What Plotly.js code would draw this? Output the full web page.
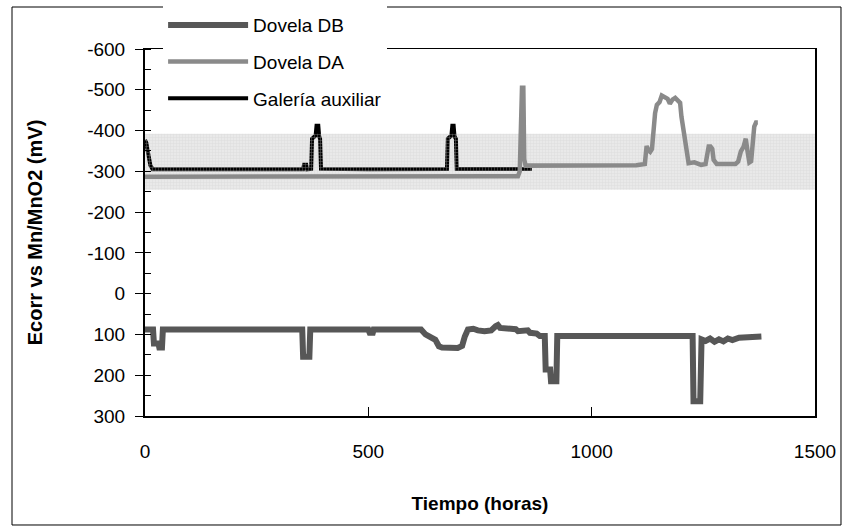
<!DOCTYPE html>
<html>
<head>
<meta charset="utf-8">
<script src="https://cdn.plot.ly/plotly-3.0.1.min.js"></script>
<style>html,body{margin:0;padding:0;background:#fff;}#chart{width:855px;height:531px;}</style>
</head>
<body>
<div id="chart"></div>
<script>
// ---- data ----
const seriesNames = ["Dovela DB", "Dovela DA", "Galería auxiliar"];

const dbT = [0, 18, 20, 30, 32, 38, 40, 352, 354, 368, 370, 500, 503, 510, 512, 618, 628, 638, 650, 658, 665, 700, 710, 716, 723, 735, 745, 760, 775, 785, 790, 795, 810, 830, 835, 850, 857, 862, 877, 884, 895, 897, 907, 909, 921, 923, 1226, 1228, 1243, 1246, 1255, 1265, 1275, 1285, 1295, 1305, 1315, 1330, 1345, 1360, 1380];
const dbV = [88, 88, 122, 122, 132, 132, 88, 88, 155, 155, 88, 88, 96, 96, 88, 88, 100, 105, 113, 129, 132, 133, 128, 105, 88, 86, 90, 92, 90, 80, 77, 84, 86, 87, 92, 92, 90, 96, 98, 104, 104, 186, 186, 215, 215, 104, 104, 264, 264, 112, 116, 110, 118, 112, 117, 110, 114, 108, 108, 105, 105];

const daT = [0, 835, 839, 842, 844, 847, 849, 852, 900, 1000, 1100, 1119, 1123, 1127, 1131, 1135, 1138, 1142, 1146, 1152, 1157, 1164, 1170, 1175, 1181, 1187, 1193, 1198, 1201, 1205, 1209, 1213, 1217, 1230, 1245, 1255, 1258, 1262, 1266, 1270, 1273, 1280, 1300, 1322, 1328, 1334, 1340, 1345, 1349, 1353, 1357, 1361, 1364, 1368, 1372];
const daV = [-287, -288, -300, -420, -505, -505, -330, -314, -314, -314, -315, -318, -362, -352, -348, -355, -395, -443, -463, -470, -486, -482, -478, -466, -476, -480, -474, -468, -434, -402, -373, -345, -320, -322, -316, -318, -333, -361, -361, -355, -328, -318, -318, -318, -324, -349, -360, -380, -349, -322, -325, -361, -410, -420, -420];

const galT = [0, 3, 6, 9, 12, 17, 200, 354, 356, 361, 363, 372, 374, 382, 384, 388, 390, 392, 394, 500, 676, 678, 686, 688, 691, 693, 696, 698, 866];
const galV = [-377, -370, -350, -330, -315, -305, -306, -305, -316, -316, -305, -306, -380, -388, -412, -412, -385, -380, -306, -305, -306, -380, -388, -412, -412, -385, -380, -306, -306];

const bandTop = -392;
const bandBottom = -255;

const yTickVals = [-600, -500, -400, -300, -200, -100, 0, 100, 200, 300];
const yTickText = ["-600", "-500", "-400", "-300", "-200", "-100", "0", "100", "200", "300"];
const xTickVals = [0, 500, 1000, 1500];
const xTickText = ["0", "500", "1000", "1500"];

// ---- traces ----
const FONT = "Liberation Sans, Arial, sans-serif";

const galTrace = {
  x: galT, y: galV, type: "scatter", mode: "lines", name: seriesNames[2],
  line: {color: "#000000", width: 4}, legendgroup: "g3", legendrank: 3, hoverinfo: "skip"
};
const bandTrace = {
  x: [xTickVals[0], xTickVals[3], xTickVals[3], xTickVals[0], xTickVals[0]],
  y: [bandBottom, bandBottom, bandTop, bandTop, bandBottom],
  type: "scatter", mode: "lines", fill: "toself", fillcolor: "rgba(0,0,0,0)",
  fillpattern: {shape: "+", size: 3, solidity: 0.3, fgcolor: "#cfcfcf", bgcolor: "rgba(0,0,0,0)", fillmode: "overlay"},
  line: {width: 0}, showlegend: false, hoverinfo: "skip"
};
const daTrace = {
  x: daT, y: daV, type: "scatter", mode: "lines", name: seriesNames[1],
  line: {color: "#8a8a8a", width: 4.5}, legendgroup: "g2", legendrank: 2, hoverinfo: "skip"
};
const dbTrace = {
  x: dbT, y: dbV, type: "scatter", mode: "lines", name: seriesNames[0],
  line: {color: "#575757", width: 6}, legendgroup: "g1", legendrank: 1, hoverinfo: "skip"
};

const layout = {
  width: 855, height: 531,
  margin: {l: 145, r: 40, t: 49, b: 115, autoexpand: false},
  paper_bgcolor: "#ffffff", plot_bgcolor: "#ffffff",
  font: {family: FONT, size: 19, color: "#000000"},
  showlegend: true,
  legend: {
    x: 0.027, y: 1.117, xanchor: "left", yanchor: "top",
    bgcolor: "#ffffff", borderwidth: 0, font: {family: FONT, size: 19, color: "#000"},
    traceorder: "grouped", tracegroupgap: 9, itemwidth: 80
  },
  xaxis: {
    range: [0, 1500], tickmode: "array", tickvals: xTickVals, ticktext: xTickText,
    ticks: "inside", ticklen: 9, tickcolor: "#000", tickwidth: 1,
    showline: true, linecolor: "#000", linewidth: 1.5, mirror: true,
    showgrid: false, zeroline: false, automargin: false,
    ticklabelstandoff: 18,
    tickfont: {family: FONT, size: 19, color: "#000"},
    title: {text: "<b>Tiempo (horas)</b>", font: {family: FONT, size: 19, color: "#000"}, standoff: 35}
  },
  yaxis: {
    range: [300, -600], tickmode: "array", tickvals: yTickVals, ticktext: yTickText,
    ticks: "outside", ticklen: 8, tickcolor: "#000", tickwidth: 1,
    minor: {tickmode: "linear", tick0: -600, dtick: 50, ticks: "inside", ticklen: 6, tickcolor: "#000", showgrid: false},
    showline: true, linecolor: "#000", linewidth: 2, mirror: true,
    showgrid: false, zeroline: false, automargin: false,
    ticklabelstandoff: 6,
    tickfont: {family: FONT, size: 19, color: "#000"},
    title: {text: "<b>Ecorr vs Mn/MnO2 (mV)</b>", font: {family: FONT, size: 20, color: "#000"}, standoff: 39}
  },
  shapes: [
    {type: "rect", xref: "paper", yref: "y", x0: 0, x1: 1, y0: bandBottom, y1: bandTop,
     fillcolor: "#e9e9e9", line: {width: 0}, layer: "below"},
    {type: "rect", xref: "paper", yref: "paper", x0: -0.1985, x1: 1.0388, y0: -0.297, y1: 1.1144,
     fillcolor: "rgba(0,0,0,0)", line: {color: "#000", width: 1}, layer: "above"}
  ]
};

Plotly.newPlot("chart", [galTrace, bandTrace, daTrace, dbTrace], layout, {displayModeBar: false, staticPlot: true});
</script>
</body>
</html>
